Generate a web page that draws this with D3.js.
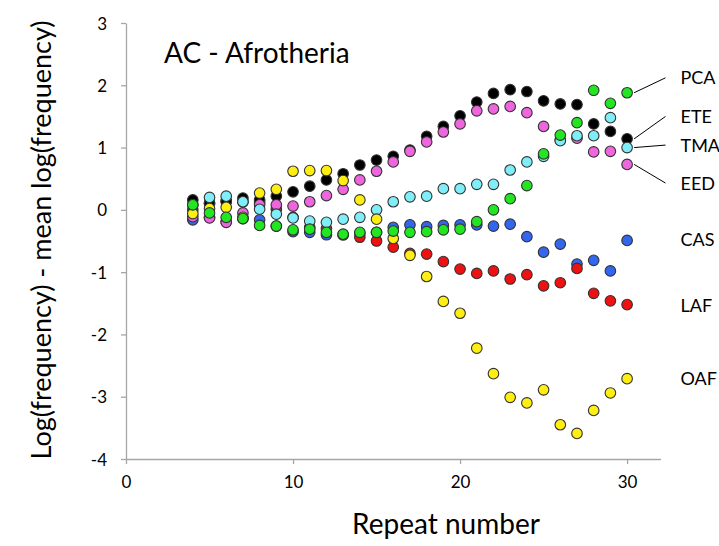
<!DOCTYPE html>
<html>
  <head>
    <meta charset="utf-8">
    <title>AC - Afrotheria</title>
    <script src="https://d3js.org/d3.v7.min.js"></script>
    <style>
      body { margin: 0; background: #fff; }
      text { font-family: Lato, "Open Sans", sans-serif; fill: #000; }
      .axis path, .axis line { stroke: #a6a6a6; stroke-width: 1.3px; }
      .axis .tick text { font-size: 17px; }
      .series-label { font-size: 18px; }
      .leader { stroke: #000; stroke-width: 1px; }
    </style>
  </head>
  <body>
    <svg width="719" height="546"></svg>
    <script>
      const repeats = [4, 5, 6, 7, 8, 9, 10, 11, 12, 13, 14, 15, 16, 17, 18, 19, 20, 21, 22, 23, 24, 25, 26, 27, 28, 29, 30];

      const CAS = [-0.16, -0.12, -0.19, -0.14, -0.16, -0.26, -0.35, -0.36, -0.40, -0.40, -0.38, -0.36, -0.28, -0.24, -0.27, -0.25, -0.24, -0.24, -0.26, -0.23, -0.43, -0.68, -0.55, -0.87, -0.81, -0.98, -0.49];
      const LAF = [0.00, 0.10, 0.15, 0.13, 0.12, 0.01, -0.12, -0.28, -0.30, -0.40, -0.44, -0.50, -0.60, -0.70, -0.71, -0.83, -0.95, -1.02, -0.98, -1.11, -1.04, -1.22, -1.17, -0.94, -1.34, -1.46, -1.52];
      const ETE = [0.16, 0.11, 0.13, 0.19, 0.16, 0.22, 0.29, 0.38, 0.48, 0.58, 0.72, 0.80, 0.86, 0.96, 1.18, 1.34, 1.51, 1.73, 1.87, 1.93, 1.90, 1.75, 1.70, 1.69, 1.38, 1.26, 1.14];
      const EED = [-0.11, -0.13, -0.20, -0.05, 0.08, 0.08, 0.06, 0.13, 0.23, 0.33, 0.48, 0.62, 0.77, 0.94, 1.09, 1.25, 1.38, 1.59, 1.62, 1.66, 1.56, 1.34, 1.12, 1.15, 0.93, 0.94, 0.73];
      const TMA = [0.08, 0.20, 0.22, 0.13, 0.01, -0.07, -0.13, -0.18, -0.20, -0.15, -0.12, 0.00, 0.13, 0.21, 0.22, 0.34, 0.34, 0.41, 0.41, 0.64, 0.77, 0.86, 1.11, 1.19, 1.19, 1.48, 1.00];
      const OAF = [-0.06, 0.02, 0.04, -0.12, 0.27, 0.33, 0.62, 0.63, 0.63, 0.47, 0.16, -0.15, -0.46, -0.73, -1.07, -1.47, -1.66, -2.22, -2.63, -3.01, -3.10, -2.89, -3.45, -3.59, -3.22, -2.94, -2.71];
      const PCA = [0.08, -0.05, -0.12, -0.14, -0.25, -0.26, -0.32, -0.31, -0.36, -0.39, -0.36, -0.36, -0.34, -0.36, -0.35, -0.32, -0.31, -0.19, 0.00, 0.18, 0.39, 0.90, 1.20, 1.40, 1.92, 1.71, 1.88];

      // drawing order, bottom to top
      const seriesNames = ["CAS", "LAF", "ETE", "EED", "TMA", "OAF", "PCA"];
      const seriesValues = [CAS, LAF, ETE, EED, TMA, OAF, PCA];
      const seriesColors = ["#3366ee", "#ee1111", "#000000", "#ee66dd", "#80eef8", "#ffee11", "#22e622"];
      // label height on the right, in y units
      const labelLevels = [-0.48, -1.53, 1.50, 0.43, 1.04, -2.70, 2.12];
      const leaderLines = ["ETE", "EED", "TMA", "PCA"];

      const xTicks = [0, 10, 20, 30];
      const yTicks = [-4, -3, -2, -1, 0, 1, 2, 3];

      const svg = d3.select("svg");
      const x = d3.scaleLinear().domain([0, 32]).range([126, 660.5]);
      const y = d3.scaleLinear().domain([-4, 3]).range([459, 23]);

      svg.append("g")
          .attr("class", "axis axis--y")
          .attr("transform", `translate(${x(0)},0)`)
        .call(d3.axisLeft(y).tickValues(yTicks).tickFormat(d => String(d))
          .tickSize(5).tickSizeOuter(0).tickPadding(14))
        .call(g => g.selectAll(".tick text").attr("dy", "0.36em"));

      svg.append("g")
          .attr("class", "axis axis--x")
          .attr("transform", `translate(0,${y(-4)})`)
        .call(d3.axisBottom(x).tickValues(xTicks).tickFormat(d => String(d))
          .tickSize(5).tickSizeOuter(0).tickPadding(12));

      svg.append("text")
          .attr("x", 446)
          .attr("y", 534)
          .attr("text-anchor", "middle")
          .style("font-size", "28px")
          .text("Repeat number");

      svg.append("text")
          .attr("transform", "translate(51,240) rotate(-90)")
          .attr("text-anchor", "middle")
          .style("font-size", "27px")
          .text("Log(frequency) - mean log(frequency)");

      svg.append("text")
          .attr("x", 164)
          .attr("y", 63)
          .style("font-size", "28px")
          .text("AC - Afrotheria");

      const series = seriesNames.map((name, i) => ({
        name: name,
        color: seriesColors[i],
        level: labelLevels[i],
        points: repeats.map((r, j) => ({ r: r, v: seriesValues[i][j] }))
      }));

      const groups = svg.selectAll(".series")
        .data(series)
        .enter().append("g")
          .attr("class", "series");

      groups.selectAll("circle")
        .data(d => d.points.map(p => ({ r: p.r, v: p.v, color: d.color })))
        .enter().append("circle")
          .attr("cx", d => x(d.r))
          .attr("cy", d => y(d.v))
          .attr("r", 5.3)
          .attr("fill", d => d.color)
          .attr("stroke", "#333")
          .attr("stroke-width", 1.1);

      const lastRepeat = repeats[repeats.length - 1];

      svg.selectAll(".leader")
        .data(series.filter(d => leaderLines.includes(d.name)))
        .enter().append("line")
          .attr("class", "leader")
          .attr("x1", x(lastRepeat) + 7)
          .attr("y1", d => y(d.points[d.points.length - 1].v))
          .attr("x2", x(lastRepeat + 2.3))
          .attr("y2", d => y(d.level));

      svg.selectAll(".series-label")
        .data(series)
        .enter().append("text")
          .attr("class", "series-label")
          .attr("x", x(lastRepeat + 3.2))
          .attr("y", d => y(d.level))
          .attr("dy", "0.36em")
          .text(d => d.name);
    </script>
  </body>
</html>
